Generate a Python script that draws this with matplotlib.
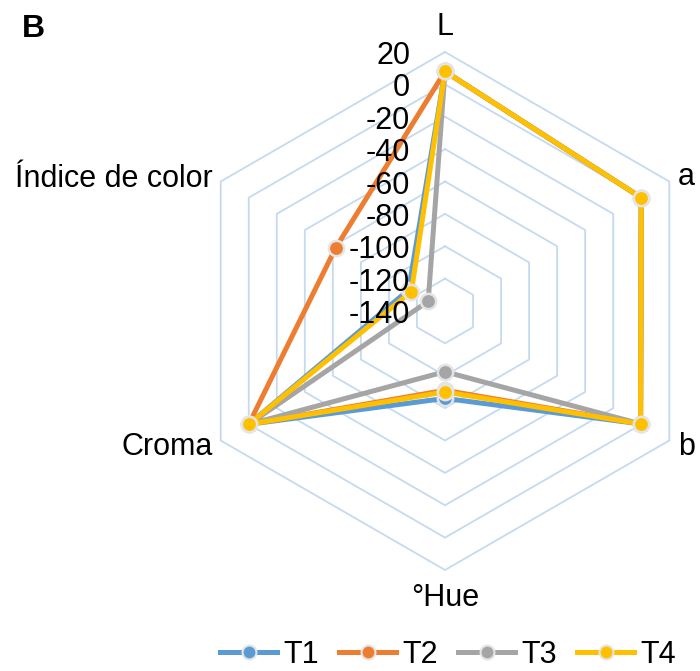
import numpy as np
import matplotlib
matplotlib.use('Agg')
import matplotlib.pyplot as plt
from matplotlib.lines import Line2D

categories = ['L', 'a', 'b', '°Hue', 'Croma', 'Índice de color']
series_names = ['T1', 'T2', 'T3', 'T4']
t1 = [8, 0, -0.5, -86, 0, -114]
t2 = [8, 0, -0.5, -91, 0, -62]
t3 = [8, 0, -0.5, -102.5, 0, -128]
t4 = [8, 0, -0.5, -90, 0, -116]
r_ticks = [20, 0, -20, -40, -60, -80, -100, -120, -140]

colors = ['#5B9BD5', '#ED7D31', '#A5A5A5', '#FFC000']
grid_color = '#C5DAF0'

plt.rcParams['font.family'] = ['Liberation Sans', 'DejaVu Sans']

W, H = 700, 671
fig = plt.figure(figsize=(W / 100, H / 100), dpi=100)
cx, cy, R = 445, 311, 259
ax = fig.add_axes([(cx - R) / W, 1 - (cy + R) / H, 2 * R / W, 2 * R / H],
                  projection='polar')
ax.set_theta_zero_location('N')
ax.set_theta_direction(-1)
ax.set_ylim(min(r_ticks), max(r_ticks))
ax.grid(False)
ax.set_xticks([])
ax.set_yticks([])
ax.spines['polar'].set_visible(False)
ax.patch.set_visible(False)

n = len(categories)
theta = np.deg2rad(np.arange(n) * 360.0 / n)
theta_c = np.append(theta, theta[0])

# hexagonal gridlines
for v in r_ticks[:-1]:
    ax.plot(theta_c, [v] * (n + 1), color=grid_color, lw=1.3, zorder=1,
            clip_on=False)

# tick labels along the vertical axis
for v in r_ticks:
    ax.annotate(str(v), xy=(0, v), xytext=(-35, -12), textcoords='offset pixels',
                ha='right', va='baseline', fontsize=22, color='black',
                annotation_clip=False, zorder=5)

handles = []
for name, vals, col in zip(series_names, [t1, t2, t3, t4], colors):
    vv = np.append(vals, vals[0])
    ax.plot(theta_c, vv, color=col, lw=3.6, marker='o', markersize=11,
            markerfacecolor=col, markeredgecolor='#E4E4E4',
            markeredgewidth=1.8, clip_on=False, zorder=3,
            solid_joinstyle='round')
    handles.append(Line2D([], [], color=col, lw=3.6, marker='o', markersize=10,
                          markerfacecolor=col, markeredgecolor='#E4E4E4',
                          markeredgewidth=1.5, label=name))

def fx(x):
    return x / W

def fy(y):
    return 1 - y / H

label_pos = {
    'L': (445, 35, 'center'),
    'a': (678, 185, 'left'),
    'b': (678, 455, 'left'),
    '°Hue': (445, 606, 'center'),
    'Croma': (213, 455, 'right'),
    'Índice de color': (213, 187, 'right'),
}
for c in categories:
    x, y, ha = label_pos[c]
    fig.text(fx(x), fy(y), c, ha=ha, va='baseline', fontsize=22, color='black')

fig.text(fx(22), fy(37), 'B', ha='left', va='baseline', fontsize=23,
         fontweight='bold', color='black')

fig.legend(handles=handles, loc='center', bbox_to_anchor=(fx(448), fy(655)),
           ncol=4, frameon=False, fontsize=22, handlelength=1.85,
           handletextpad=0.2, columnspacing=0.68, borderaxespad=0)

fig.savefig('out.png', dpi=100)
